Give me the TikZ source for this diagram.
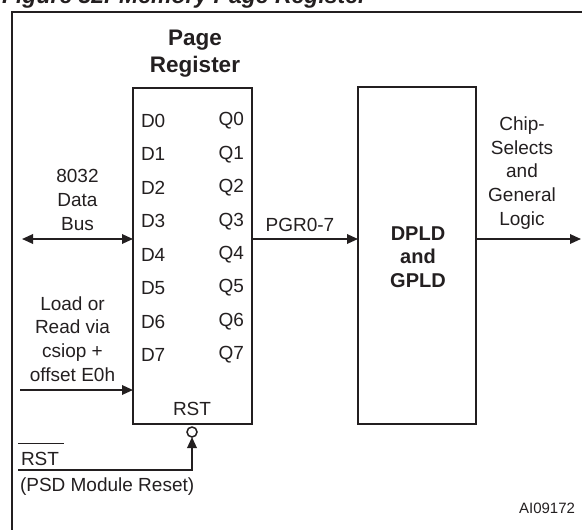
\documentclass[tikz,border=0pt]{standalone}
\usepackage{fontspec}
\setmainfont{Liberation Sans}
\usetikzlibrary{arrows.meta}
\definecolor{ink}{RGB}{35,31,32}
\begin{document}
\begin{tikzpicture}[x=1pt,y=-1pt,
  every node/.style={inner sep=0pt,outer sep=0pt,text=ink},
  lbl/.style={font=\fontsize{19}{23.8}\selectfont, align=center},
  pin/.style={font=\fontsize{19}{21}\selectfont},
  box/.style={draw=ink,line width=2.2pt},
  wire/.style={draw=ink,line width=1.8pt},
  tip/.style={-{Triangle[length=11pt,width=9.5pt]}},
  tips/.style={{Triangle[length=11pt,width=9.5pt]}-{Triangle[length=11pt,width=9.5pt]}}]
\useasboundingbox (0,0) rectangle (582,530);
\clip (0,0) rectangle (582,530);
% title (cut off at the top in the reference)
\node[anchor=base west, font=\fontsize{23}{26}\selectfont\bfseries\itshape] (title) at (2,3.5) {Figure 32. Memory Page Register};
% frame
\draw[ink,line width=2.5pt] (12,540) -- (12,12) -- (590,12);
% boxes
\node[box, minimum width=119pt, minimum height=336pt] (reg) at (192.5,256) {};
\node[box, minimum width=118pt, minimum height=337pt] (pld) at (417,255.5) {};
\node[font=\fontsize{22.5}{27}\selectfont\bfseries, align=center] (regname) at (195,54) {Page\\Register};
\node[lbl, font=\fontsize{20}{23.5}\selectfont\bfseries] (pldname) at (418,257) {DPLD\\and\\GPLD};
% pins
\foreach \i in {0,...,7} {
  \node[pin, anchor=west] (d\i) at (141,121+33.43*\i) {D\i};
  \node[pin, anchor=east] (q\i) at (244,121+33.43*\i) {Q\i};
}
\node[pin] (rst) at (192,409) {RST};
\node[draw=ink, circle, line width=1.5pt, minimum size=10pt, fill=white] (bub) at (192,432) {};
% data bus
\coordinate (busL) at (22,239);
\draw[wire,tips] (busL) -- (reg.west |- busL);
\node[lbl] (bustext) at (77.5,200) {8032\\Data\\Bus};
% load
\coordinate (ldL) at (20,390);
\draw[wire,tip] (ldL) -- (reg.west |- ldL);
\node[lbl] (ldtext) at (72.5,339) {Load or\\Read via\\csiop +\\offset E0h};
% PGR
\draw[wire,tip] (reg.east |- busL) -- (pld.west |- busL);
\node[pin] (pgr) at (300,225) {PGR0-7};
% output
\coordinate (outR) at (581,239);
\draw[wire,tip] (pld.east |- outR) -- (outR);
\node[lbl] (chiptext) at (522,173) {Chip-\\Selects\\and\\General\\Logic};
% reset
\coordinate (rstin) at (18,470);
\draw[wire,tip] (rstin) -| (bub.south);
\node[pin, anchor=west] (rstbar) at (21,459) {RST};
\draw[ink,line width=1.2pt] ([xshift=-3pt,yshift=9pt]rstbar.north west) -- ([xshift=5pt,yshift=9pt]rstbar.north east);
\node[pin, anchor=west] (psd) at (20,487) {(PSD Module Reset)};
\node[font=\fontsize{15}{18}\selectfont, anchor=east] (ai) at (575,508) {AI09172};
\end{tikzpicture}
\end{document}
